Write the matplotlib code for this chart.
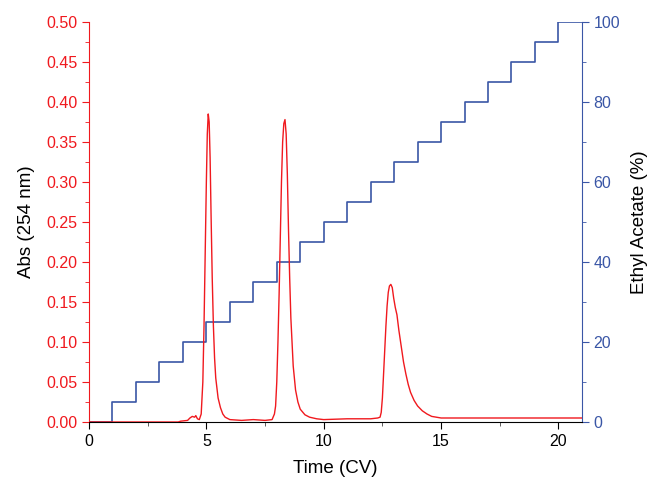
import matplotlib
matplotlib.use("Agg")
from matplotlib import pyplot as plt
from matplotlib.ticker import MultipleLocator

plt.rcParams['font.family'] = ['Liberation Sans', 'DejaVu Sans']

RED = '#f0191e'
BLUE = '#3a56a6'

# absorbance trace
time_cv = [0.0, 3.8, 3.9, 4.2, 4.3, 4.4, 4.5, 4.55, 4.62, 4.7,
           4.78, 4.85, 4.9, 4.95, 5.0, 5.04, 5.08, 5.12, 5.16, 5.2,
           5.25, 5.3, 5.35, 5.4, 5.5, 5.6, 5.7, 5.8, 6.0, 6.5,
           7.0, 7.5, 7.8, 7.9, 7.95, 8.0, 8.05, 8.1, 8.15, 8.2,
           8.25, 8.3, 8.35, 8.4, 8.45, 8.5, 8.55, 8.6, 8.7, 8.8,
           8.9, 9.0, 9.2, 9.4, 9.7, 10.0, 11.0, 12.0, 12.3, 12.4,
           12.45, 12.5, 12.55, 12.6, 12.65, 12.7, 12.75, 12.8, 12.86, 12.92,
           12.98, 13.05, 13.12, 13.2, 13.3, 13.4, 13.5, 13.6, 13.7, 13.85,
           14.0, 14.2, 14.4, 14.6, 14.8, 15.0, 21.0]
absorbance = [0.000, 0.000, 0.001, 0.002, 0.005, 0.007, 0.006, 0.008, 0.004, 0.003,
              0.010, 0.050, 0.120, 0.210, 0.300, 0.360, 0.385, 0.375, 0.330, 0.260,
              0.180, 0.120, 0.080, 0.055, 0.030, 0.018, 0.010, 0.006, 0.003, 0.002,
              0.003, 0.002, 0.003, 0.010, 0.020, 0.050, 0.100, 0.160, 0.230, 0.300,
              0.350, 0.373, 0.378, 0.360, 0.310, 0.240, 0.180, 0.130, 0.070, 0.040,
              0.025, 0.016, 0.009, 0.006, 0.004, 0.003, 0.004, 0.004, 0.005, 0.006,
              0.012, 0.030, 0.060, 0.090, 0.120, 0.145, 0.162, 0.170, 0.172, 0.168,
              0.155, 0.143, 0.134, 0.115, 0.095, 0.075, 0.060, 0.047, 0.037, 0.027,
              0.020, 0.014, 0.010, 0.007, 0.006, 0.005, 0.005]

# step gradient
gradient_cv = [0, 1, 2, 3, 4, 5, 6, 7, 8, 9, 10, 11, 12, 13, 14, 15, 16, 17, 18, 19, 20, 21]
ethyl_acetate = [0, 5, 10, 15, 20, 25, 30, 35, 40, 45, 50, 55, 60, 65, 70, 75, 80, 85, 90, 95, 100, 100]

fig = plt.figure(figsize=(6.52, 4.83), dpi=100)
ax = fig.add_axes([0.1365, 0.1263, 0.756, 0.8282])
ax2 = ax.twinx()

ax.plot(time_cv, absorbance, color=RED, linewidth=1.0, zorder=3)
ax2.plot(gradient_cv, ethyl_acetate, color=BLUE, linewidth=1.2, drawstyle='steps-post')

ax.set_zorder(ax2.get_zorder() + 1)
ax.patch.set_visible(False)

ax.set_xlim(0, 21)
ax.set_ylim(0, 0.5)
ax2.set_ylim(0, 100)

ax.xaxis.set_major_locator(MultipleLocator(5))
ax.xaxis.set_minor_locator(MultipleLocator(2.5))
ax.yaxis.set_major_locator(MultipleLocator(0.05))
ax.yaxis.set_minor_locator(MultipleLocator(0.025))
ax2.yaxis.set_major_locator(MultipleLocator(20))
ax2.yaxis.set_minor_locator(MultipleLocator(10))
ax.yaxis.set_major_formatter(plt.FormatStrFormatter('%.2f'))

for a in (ax, ax2):
    a.spines['top'].set_visible(False)
ax.spines['right'].set_visible(False)
ax2.spines['left'].set_visible(False)
ax2.spines['bottom'].set_visible(False)
ax.spines['left'].set_color(RED)
ax2.spines['right'].set_color(BLUE)
ax.spines['bottom'].set_color('black')

ax.tick_params(axis='y', which='both', colors=RED, labelsize=11.5, direction='out')
ax.tick_params(axis='y', which='major', length=5)
ax.tick_params(axis='y', which='minor', length=3)
ax.tick_params(axis='x', which='both', colors='black', labelsize=11.5, direction='out')
ax.tick_params(axis='x', which='major', length=5)
ax.tick_params(axis='x', which='minor', length=3, color='#444444')
ax2.tick_params(axis='y', which='both', colors=BLUE, labelsize=11.5, direction='out')
ax2.tick_params(axis='y', which='major', length=5)
ax2.tick_params(axis='y', which='minor', length=3)

ax.set_xlabel('Time (CV)', fontsize=13.5, labelpad=8)
ax.set_ylabel('Abs (254 nm)', fontsize=13.5, color='black', labelpad=8)
ax2.set_ylabel('Ethyl Acetate (%)', fontsize=13.5, color='black', labelpad=8)

fig.savefig('out.png', dpi=100)
